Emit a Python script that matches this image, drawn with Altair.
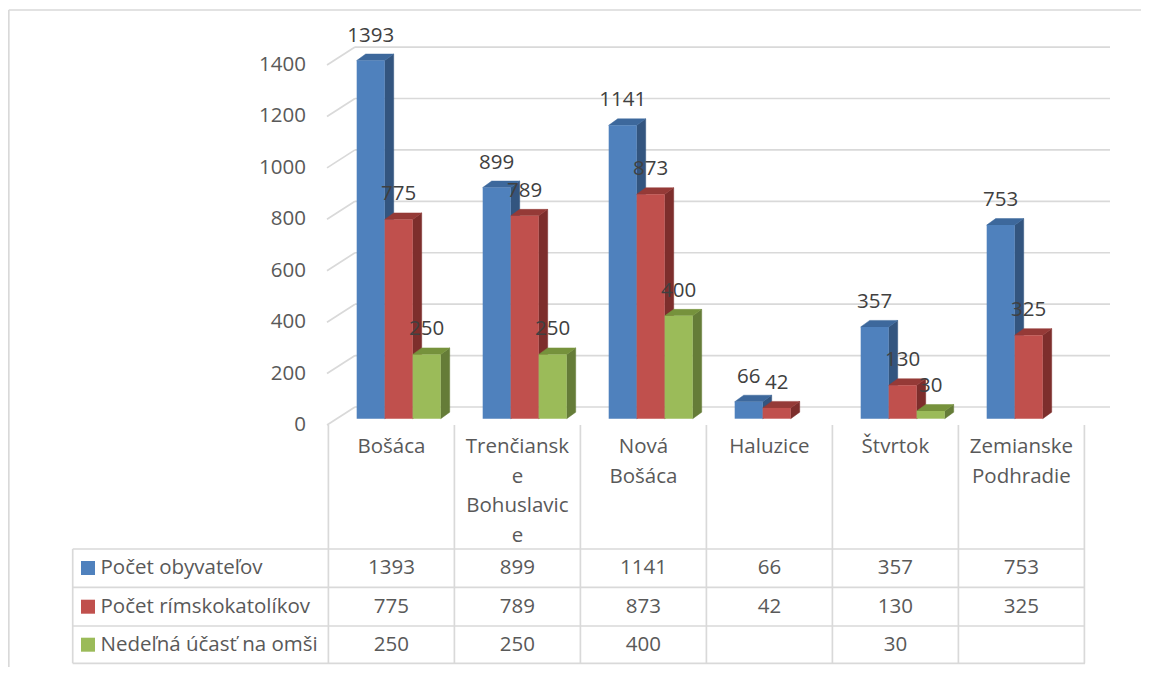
import altair as alt
import pandas as pd

# ---------------- data ----------------
categories = ["Bošáca", "Trenčianske Bohuslavice", "Nová Bošáca", "Haluzice", "Štvrtok", "Zemianske Podhradie"]
header_lines = [["Bošáca"], ["Trenčiansk", "e", "Bohuslavic", "e"], ["Nová", "Bošáca"],
                ["Haluzice"], ["Štvrtok"], ["Zemianske", "Podhradie"]]
series_names = ["Počet obyvateľov", "Počet rímskokatolíkov", "Nedeľná účasť na omši"]
pocet_obyvatelov = [1393, 899, 1141, 66, 357, 753]
pocet_rimskokatolikov = [775, 789, 873, 42, 130, 325]
nedelna_ucast = [250, 250, 400, None, 30, None]
y_ticks = [0, 200, 400, 600, 800, 1000, 1200, 1400]

# ---------------- style ----------------
front_colors = ["#4F81BD", "#C0504D", "#9BBB59"]
side_colors = ["#33557F", "#7D2E2C", "#657C38"]
top_colors = ["#3D689C", "#953A37", "#76923C"]
grid_color = "#D9D9D9"
text_color = "#595959"
label_color = "#404040"
FONT = "Open Sans"
FS = 20.5

# ---------------- layout ----------------
W, H = 1133, 659
PAGE = 8
COL0 = 328.4      # page x of first table column line
COLW = 126.0      # column width
ZERO_Y = 418.7    # page y of value 0 (bar plane)
K = 0.2571        # px per value unit


def u_of(px):
    return (px - COL0) / COLW


def v_of(py):
    return (ZERO_Y - py) / K


x_dom = [u_of(PAGE), u_of(PAGE + W)]
y_dom = [v_of(PAGE + H), v_of(PAGE)]
xs = alt.Scale(domain=x_dom, nice=False, zero=False)
ys = alt.Scale(domain=y_dom, nice=False, zero=False)


def X(f, **kw):
    return alt.X(f, type="quantitative", scale=xs, axis=None, **kw)


def Y(f, **kw):
    return alt.Y(f, type="quantitative", scale=ys, axis=None, **kw)


layers = []

# ---------------- back wall gridlines + left wall ----------------
BACK_DV = v_of(407) - 0      # offset of back wall relative to bar plane
FRONT_DV = v_of(425)         # offset of front edge
XB0, XB1, XF = u_of(355), u_of(1110), u_of(327)
grid_df = pd.DataFrame({
    "t": y_ticks,
    "yb": [t + BACK_DV for t in y_ticks],
    "yf": [t + FRONT_DV for t in y_ticks],
    "xb0": XB0, "xb1": XB1, "xf": XF, "xl": u_of(306),
})
layers.append(alt.Chart(grid_df).mark_rule(color=grid_color, strokeWidth=1.7).encode(
    x=X("xb0"), x2=alt.X2("xb1"), y=Y("yb")))
layers.append(alt.Chart(grid_df).mark_rule(color=grid_color, strokeWidth=1.7).encode(
    x=X("xf"), x2=alt.X2("xb0"), y=Y("yf"), y2=alt.Y2("yb")))
layers.append(alt.Chart(grid_df).mark_text(align="right", baseline="middle", font=FONT,
                                           fontSize=FS, color=text_color).encode(
    x=X("xl"), y=Y("yf"), text=alt.Text("t:Q")))

# ---------------- 3D bars ----------------
BAR_OFF = 0.2246
BAR_W = 0.2222
DX = 9 / COLW
DY = 6.5 / K
series_values = [pocet_obyvatelov, pocet_rimskokatolikov, nedelna_ucast]
label_rows = []
for s, vals in enumerate(series_values):
    front, side, top = [], [], []
    for c, v in enumerate(vals):
        if v is None:
            continue
        l = c + BAR_OFF + s * BAR_W
        r = l + BAR_W
        front.append(dict(l=l, r=r, v=v, z=0))
        side += [dict(id=c, x=r, y=v, y2=0), dict(id=c, x=r + DX, y=v + DY, y2=DY)]
        top += [dict(id=c, y=v, x=l, x2=r), dict(id=c, y=v + DY, x=l + DX, x2=r + DX)]
        label_rows.append(dict(x=(l + r) / 2, v=v, txt=str(v)))
    side_df, top_df, front_df = pd.DataFrame(side), pd.DataFrame(top), pd.DataFrame(front)
    layers.append(alt.Chart(side_df).mark_area(orient="vertical", color=side_colors[s], opacity=1,
                                               stroke=side_colors[s], strokeWidth=0.5).encode(
        x=X("x"), y=Y("y", stack=None), y2=alt.Y2("y2"), detail="id:N"))
    layers.append(alt.Chart(top_df).mark_area(orient="horizontal", color=top_colors[s], opacity=1,
                                              stroke=top_colors[s], strokeWidth=0.5).encode(
        y=Y("y"), x=X("x", stack=None), x2=alt.X2("x2"), detail="id:N"))
    layers.append(alt.Chart(front_df).mark_rect(color=front_colors[s], opacity=1).encode(
        x=X("l"), x2=alt.X2("r"), y=Y("v"), y2=alt.Y2("z")))

layers.append(alt.Chart(pd.DataFrame(label_rows)).mark_text(
    baseline="middle", font=FONT, fontSize=FS, color=label_color, dy=-25).encode(
    x=X("x"), y=Y("v"), text="txt:N"))

# ---------------- data table ----------------
ROW_LINES = [549, 587.3, 626, 663.3]
ROW_CENTERS = [568, 606.7, 644.7]
T_LEFT, T_RIGHT = u_of(72.7), u_of(1085)
hl = pd.DataFrame({"y": [v_of(p) for p in ROW_LINES], "x0": T_LEFT, "x1": T_RIGHT})
layers.append(alt.Chart(hl).mark_rule(color=grid_color, strokeWidth=1.7).encode(
    x=X("x0"), x2=alt.X2("x1"), y=Y("y")))
vl = pd.DataFrame({
    "x": [T_LEFT] + [float(c) for c in range(len(categories) + 1)],
    "y0": [v_of(549)] + [v_of(425)] * (len(categories) + 1),
    "y1": v_of(663.3),
})
layers.append(alt.Chart(vl).mark_rule(color=grid_color, strokeWidth=1.7).encode(
    x=X("x"), y=Y("y0"), y2=alt.Y2("y1")))

hdr = []
for c, lines in enumerate(header_lines):
    for i, t in enumerate(lines):
        hdr.append(dict(x=c + 0.5, y=v_of(447 + 29.7 * i), txt=t))
layers.append(alt.Chart(pd.DataFrame(hdr)).mark_text(
    baseline="middle", font=FONT, fontSize=FS, color=text_color).encode(
    x=X("x"), y=Y("y"), text="txt:N"))

leg = pd.DataFrame({"name": series_names, "y": [v_of(p) for p in ROW_CENTERS],
                    "xs": u_of(88), "xt": u_of(100.5), "col": front_colors})
layers.append(alt.Chart(leg).mark_square(size=196, opacity=1).encode(
    x=X("xs"), y=Y("y"), color=alt.Color("col:N", scale=None)))
layers.append(alt.Chart(leg).mark_text(align="left", baseline="middle", font=FONT, fontSize=FS,
                                       color=text_color).encode(
    x=X("xt"), y=Y("y"), text="name:N"))

cells = []
for s, vals in enumerate(series_values):
    for c, v in enumerate(vals):
        if v is None:
            continue
        cells.append(dict(x=c + 0.5, y=v_of(ROW_CENTERS[s]), txt=str(v)))
layers.append(alt.Chart(pd.DataFrame(cells)).mark_text(
    baseline="middle", font=FONT, fontSize=FS, color=text_color).encode(
    x=X("x"), y=Y("y"), text="txt:N"))

# ---------------- outer chart border ----------------
border = pd.DataFrame({"xl": [u_of(8.8)], "xr": [x_dom[1]], "yt": [v_of(10)], "yb": [y_dom[0]]})
layers.append(alt.Chart(border).mark_rule(color=grid_color, strokeWidth=1.7).encode(
    x=X("xl"), x2=alt.X2("xr"), y=Y("yt")))
layers.append(alt.Chart(border).mark_rule(color=grid_color, strokeWidth=1.7).encode(
    x=X("xl"), y=Y("yt"), y2=alt.Y2("yb")))

chart = alt.layer(*layers).properties(
    width=W, height=H, padding=0, background="white",
    autosize=alt.AutoSizeParams(type="none"),
).configure_view(stroke=None)

chart.save("out.html", embed_options={"renderer": "svg", "actions": False})
